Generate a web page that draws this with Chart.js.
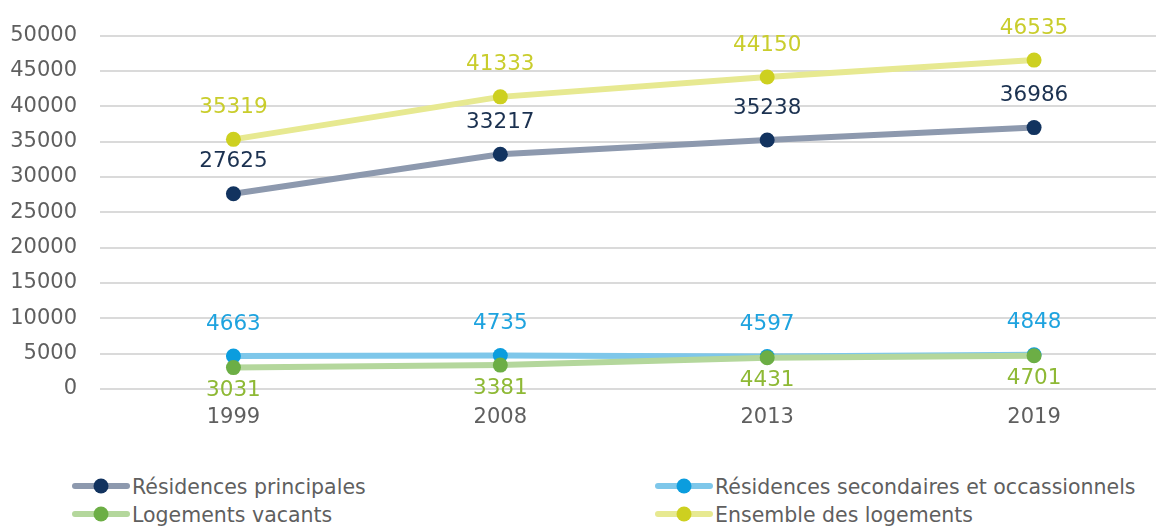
<!DOCTYPE html>
<html>
<head>
<meta charset="utf-8">
<script src="https://cdn.jsdelivr.net/npm/chart.js@4/dist/chart.umd.min.js"></script>
<style>
  html, body { margin:0; padding:0; background:#fff; overflow:hidden; width:1156px; height:527px; }
  #wrap { position:absolute; left:0; top:0; width:1175px; height:460px; }
  .leg { position:absolute; font-family:"DejaVu Sans", sans-serif; font-size:20.5px; color:#5f5f5f; white-space:nowrap; line-height:24px; }
  .leg canvas { vertical-align:middle; margin-right:2px; position:relative; top:-2px; }
</style>
</head>
<body>
<div id="wrap"><canvas id="c" width="1175" height="460"></canvas></div>
<div id="legend"></div>
<script>
const categories = ['1999', '2008', '2013', '2019'];
const seriesNames = ['Résidences principales', 'Résidences secondaires et occassionnels', 'Logements vacants', 'Ensemble des logements'];
const principales = [27625, 33217, 35238, 36986];
const secondaires = [4663, 4735, 4597, 4848];
const vacants = [3031, 3381, 4431, 4701];
const ensemble = [35319, 41333, 44150, 46535];
const yTicks = [0, 5000, 10000, 15000, 20000, 25000, 30000, 35000, 40000, 45000, 50000];

const lineColors = ['#8D99AE', '#7EC7EA', '#B4D79C', '#E7E991'];
const pointColors = ['#12335F', '#0B9DDE', '#6CAE45', '#CDD020'];
const labelColors = ['#1B3150', '#1EA3DF', '#8EB935', '#C9CD2C'];
const labelPos = ['above', 'above', 'below', 'above'];
const values = [principales, secondaires, vacants, ensemble];
const FONT = '"DejaVu Sans", sans-serif';

const dataLabels = {
  id: 'dataLabels',
  afterDatasetsDraw(chart) {
    const ctx = chart.ctx;
    ctx.save();
    ctx.font = '21.5px ' + FONT;
    ctx.textAlign = 'center';
    ctx.textBaseline = 'middle';
    chart.data.datasets.forEach((ds, i) => {
      const meta = chart.getDatasetMeta(i);
      meta.data.forEach((pt, j) => {
        ctx.fillStyle = labelColors[i];
        const dy = labelPos[i] === 'above' ? -32 : 23;
        ctx.fillText(String(ds.data[j]), pt.x, pt.y + dy);
      });
    });
    ctx.restore();
  }
};

const datasets = values.map((v, i) => ({
  label: seriesNames[i],
  data: v,
  borderColor: lineColors[i],
  backgroundColor: pointColors[i],
  pointBackgroundColor: pointColors[i],
  pointBorderColor: pointColors[i],
  pointBorderWidth: 0,
  pointRadius: 7.5,
  pointHoverRadius: 7.5,
  borderWidth: 6,
  tension: 0,
  fill: false,
  order: 4 - i
}));

new Chart(document.getElementById('c'), {
  type: 'line',
  data: { labels: categories, datasets },
  options: {
    responsive: false,
    animation: false,
    devicePixelRatio: 1,
    layout: { padding: { top: 34, right: 4, left: 0, bottom: 0 } },
    plugins: { legend: { display: false }, tooltip: { enabled: false } },
    scales: {
      x: {
        offset: true,
        grid: { display: false, drawTicks: false },
        border: { display: false },
        ticks: { color: '#5f5f5f', font: { family: FONT, size: 21 }, padding: 16 },
        afterFit(s) { s.height = 71; }
      },
      y: {
        min: 0, max: 50000,
        afterBuildTicks(s) { s.ticks = yTicks.map(v => ({ value: v })); },
        grid: { color: '#DADADA', lineWidth: 2, drawTicks: false },
        border: { display: false },
        ticks: { color: '#5f5f5f', font: { family: FONT, size: 21 }, padding: 23, callback: v => String(v) },
        afterFit(s) { s.width = 100; }
      }
    }
  },
  plugins: [dataLabels]
});

// Legend (two columns)
const legPos = [[72, 475], [655, 475], [72, 503], [655, 503]];
const legendEl = document.getElementById('legend');
seriesNames.forEach((name, i) => {
  const d = document.createElement('div');
  d.className = 'leg';
  d.style.left = legPos[i][0] + 'px';
  d.style.top = legPos[i][1] + 'px';
  const cv = document.createElement('canvas');
  cv.width = 58; cv.height = 20;
  const c = cv.getContext('2d');
  c.strokeStyle = lineColors[i]; c.lineWidth = 6; c.lineCap = 'round';
  c.beginPath(); c.moveTo(3, 10); c.lineTo(55, 10); c.stroke();
  c.fillStyle = pointColors[i];
  c.beginPath(); c.arc(29, 10, 7.5, 0, Math.PI * 2); c.fill();
  d.appendChild(cv);
  d.appendChild(document.createTextNode(name));
  legendEl.appendChild(d);
});
</script>
</body>
</html>
